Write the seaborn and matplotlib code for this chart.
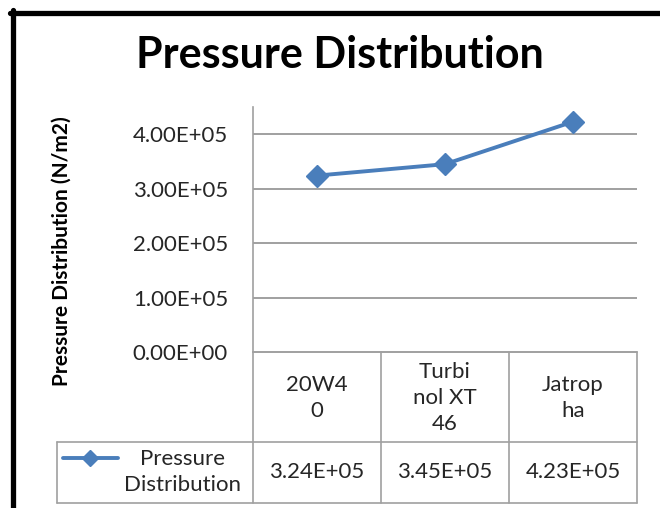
import matplotlib
matplotlib.use("Agg")
import matplotlib.pyplot as plt
from matplotlib.lines import Line2D
import seaborn as sns
import pandas as pd

# Data
categories = ["20W40", "Turbinol XT 46", "Jatropha"]
category_labels = ["20W4\n0", "Turbi\nnol XT\n46", "Jatrop\nha"]
pressure = [3.24e5, 3.45e5, 4.23e5]
series_name = "Pressure Distribution"
y_ticks = [0, 1e5, 2e5, 3e5, 4e5]

sns.set_theme(style="white")
plt.rcParams["font.family"] = ["Lato", "DejaVu Sans"]

W, H = 660, 508
fig = plt.figure(figsize=(W / 100, H / 100), dpi=100)
fig.patch.set_facecolor("white")


def fx(px):
    return px / W


def fy(py):
    return 1 - py / H


# plot area in pixel coordinates
left, right, top, bottom = 253, 637, 107, 352
ax = fig.add_axes([fx(left), fy(bottom), fx(right) - fx(left), fy(top) - fy(bottom)])

blue = "#4A7EBB"
grid_c = "#A0A0A0"
text_c = "#262626"
fs = 16

df = pd.DataFrame({"pos": range(len(categories)), "value": pressure})
sns.lineplot(data=df, x="pos", y="value", ax=ax, color=blue, linewidth=2.8,
             marker="D", markersize=11, markeredgecolor=blue, markeredgewidth=1)

ax.set_xlim(-0.5, len(categories) - 0.5)
ax.set_ylim(0, 4.5e5)
ax.set_yticks(y_ticks)
ax.set_yticklabels([f"{v:.2E}" for v in y_ticks], fontsize=fs, color=text_c)
ax.set_xticks([])
ax.set_xlabel("")
ax.set_ylabel("")
ax.tick_params(axis="y", length=0, pad=18)
for s in ["top", "right", "bottom"]:
    ax.spines[s].set_visible(False)
ax.spines["left"].set_color(grid_c)
ax.spines["left"].set_linewidth(1.2)
for v in y_ticks[1:]:
    ax.axhline(v, color=grid_c, linewidth=1.4, zorder=0)
ax.set_facecolor("white")


def hline(y, x0, x1, color=grid_c, lw=1.2):
    fig.add_artist(Line2D([fx(x0), fx(x1)], [fy(y), fy(y)], color=color, linewidth=lw))


def vline(x, y0, y1, color=grid_c, lw=1.2):
    fig.add_artist(Line2D([fx(x), fx(x)], [fy(y0), fy(y1)], color=color, linewidth=lw))


# data table below the plot
col_edges = [253, 381, 509, 637]
row_sep, tbl_bottom, legend_left = 442, 503, 57
hline(bottom, left, right, lw=1.4)
hline(row_sep, legend_left, right)
hline(tbl_bottom, legend_left, right)
for x in col_edges:
    vline(x, bottom, tbl_bottom)
vline(legend_left, row_sep, tbl_bottom)

for i, (lab, val) in enumerate(zip(category_labels, pressure)):
    cx = (col_edges[i] + col_edges[i + 1]) / 2
    fig.text(fx(cx), fy((bottom + row_sep) / 2 + 1), lab, ha="center", va="center",
             fontsize=fs, color=text_c, linespacing=1.4)
    fig.text(fx(cx), fy((row_sep + tbl_bottom) / 2), f"{val:.2E}", ha="center", va="center",
             fontsize=fs, color=text_c)

# legend key in the table
fig.add_artist(Line2D([fx(63), fx(118)], [fy(458), fy(458)], color=blue, linewidth=2.8))
fig.add_artist(Line2D([fx(90)], [fy(458)], color=blue, marker="D", markersize=8,
                      markeredgecolor=blue, linewidth=0))
fig.text(fx(183), fy(472), "Pressure\nDistribution", ha="center", va="center",
         fontsize=fs, color=text_c, linespacing=1.35)

# titles
fig.text(fx(340), fy(55), "Pressure Distribution", ha="center", va="center",
         fontsize=31, fontweight="bold", color="black")
fig.text(fx(62), fy(251), "Pressure Distribution (N/m2)", ha="center", va="center",
         rotation=90, fontsize=15, fontweight="bold", color="black")

# chart frame
hline(12.5, 10, W + 5, color="black", lw=3.8)
vline(12.5, 10, H + 5, color="black", lw=3.8)

fig.savefig("out.png", dpi=100, facecolor="white")
